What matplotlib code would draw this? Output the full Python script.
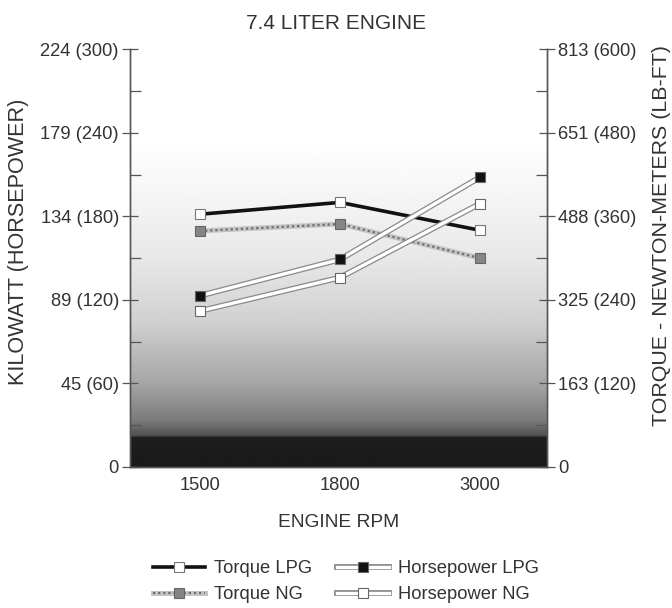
import numpy as np
import matplotlib
matplotlib.use("Agg")
import matplotlib.pyplot as plt
from matplotlib.legend_handler import HandlerTuple

plt.rcParams["font.family"] = ["Liberation Sans", "DejaVu Sans"]

# ── data ──────────────────────────────────────────────────────────────────
rpm = ["1500", "1800", "3000"]
torque_lpg = [363, 380, 340]      # lb-ft
torque_ng = [339, 349, 300]       # lb-ft
hp_lpg = [123, 149, 208]          # hp
hp_ng = [112, 136, 189]           # hp

hp_ticks = [0, 60, 120, 180, 240, 300]
hp_labels = ["0", "45 (60)", "89 (120)", "134 (180)", "179 (240)", "224 (300)"]
tq_ticks = [0, 120, 240, 360, 480, 600]
tq_labels = ["0", "163 (120)", "325 (240)", "488 (360)", "651 (480)", "813 (600)"]

TXT = "#333333"
SPINE = "#555555"
FS = 13.2

fig = plt.figure(figsize=(6.72, 6.08), dpi=100, facecolor="white")
ax = fig.add_axes([0.1935, 0.232, 0.6205, 0.687])   # torque axis (right)
ax2 = ax.twinx()                                     # horsepower axis (left)

x = np.arange(len(rpm))

# background gradient: white at top, dark band at bottom
stops = [0.0, 0.07, 0.075, 0.11, 0.2, 0.35, 0.5, 0.68, 0.78, 1.0]
grays = [0.10, 0.12, 0.32, 0.48, 0.65, 0.82, 0.91, 0.97, 1.0, 1.0]
rows = np.linspace(0, 1, 600)
grad = np.interp(rows, stops, grays)[:, None]
ax.imshow(grad, cmap="gray", vmin=0, vmax=1, origin="lower", aspect="auto",
          extent=[0, 1, 0, 1], transform=ax.transAxes, zorder=0)

# torque lines (host axis)
ax.plot(x, torque_lpg, color="#111111", lw=2.6, zorder=3)
ax.plot(x, torque_lpg, ls="none", marker="s", ms=6.5, mfc="white",
        mec="#777777", mew=0.8, zorder=4)
ax.plot(x, torque_ng, color="#c4c4c4", lw=3.6, zorder=3)
ax.plot(x, torque_ng, color="#6e6e6e", lw=1.6, ls=(0, (1, 1.3)), zorder=3)
ax.plot(x, torque_ng, ls="none", marker="s", ms=6.5, mfc="#858585",
        mec="#666666", mew=0.8, zorder=4)

# horsepower lines (twin axis, drawn on top)
for vals, mfc in [(hp_lpg, "#111111"), (hp_ng, "white")]:
    ax2.plot(x, vals, color="#8a8a8a", lw=4.2, solid_capstyle="butt", zorder=3)
    ax2.plot(x, vals, color="white", lw=2.4, solid_capstyle="butt", zorder=3)
    ax2.plot(x, vals, ls="none", marker="s", ms=6.5, mfc=mfc,
             mec="#666666", mew=0.8, zorder=4)

# axes
ax.set_xlim(-0.5, 2.48)
ax.set_ylim(0, 600)
ax2.set_ylim(0, 300)
ax.set_xticks(x)
ax.set_xticklabels(rpm)
ax.tick_params(axis="x", length=0, pad=7, labelsize=FS, labelcolor=TXT)

ax.yaxis.tick_right()
ax.yaxis.set_label_position("right")
ax.set_yticks(tq_ticks)
ax.set_yticklabels(tq_labels)
ax.set_yticks([60, 180, 300, 420, 540], minor=True)
ax.tick_params(axis="y", which="major", direction="inout", length=12,
               width=0.9, color=SPINE, labelsize=FS, labelcolor=TXT, pad=2)
ax.tick_params(axis="y", which="minor", direction="in", length=8,
               width=0.9, color=SPINE)

ax2.yaxis.tick_left()
ax2.yaxis.set_label_position("left")
ax2.set_yticks(hp_ticks)
ax2.set_yticklabels(hp_labels)
ax2.set_yticks([30, 90, 150, 210, 270], minor=True)
ax2.tick_params(axis="y", which="major", direction="inout", length=12,
                width=0.9, color=SPINE, labelsize=FS, labelcolor=TXT, pad=2)
ax2.tick_params(axis="y", which="minor", direction="in", length=8,
                width=0.9, color=SPINE)

for a in (ax, ax2):
    a.spines["top"].set_visible(False)
    for s in ("left", "right", "bottom"):
        a.spines[s].set_color(SPINE)
        a.spines[s].set_linewidth(1.0)

ax.set_xlabel("ENGINE RPM", fontsize=13.8, color=TXT, labelpad=15)
ax2.set_ylabel("KILOWATT (HORSEPOWER)", fontsize=15.6, color=TXT, labelpad=8)
ax.set_ylabel("TORQUE - NEWTON-METERS (LB-FT)", fontsize=15.4, color=TXT,
              labelpad=11)
ax2.yaxis.label.set_y(0.54)
ax.yaxis.label.set_y(0.555)
fig.text(0.5, 0.962, "7.4 LITER ENGINE", ha="center", va="center",
         fontsize=15, color=TXT)

# legend
h_tlpg = ax.plot([], [], color="#111111", lw=2.6, marker="s", ms=6.5,
                 mfc="white", mec="#777777", mew=0.8)[0]
h_tng_a = ax.plot([], [], color="#c4c4c4", lw=3.6)[0]
h_tng_b = ax.plot([], [], color="#6e6e6e", lw=1.6, ls=(0, (1, 1.3)),
                  marker="s", ms=6.5, mfc="#858585", mec="#666666", mew=0.8)[0]
h_hlpg_a = ax.plot([], [], color="#8a8a8a", lw=4.2)[0]
h_hlpg_b = ax.plot([], [], color="white", lw=2.4, marker="s", ms=6.5,
                   mfc="#111111", mec="#666666", mew=0.8)[0]
h_hng_a = ax.plot([], [], color="#8a8a8a", lw=4.2)[0]
h_hng_b = ax.plot([], [], color="white", lw=2.4, marker="s", ms=6.5,
                  mfc="white", mec="#666666", mew=0.8)[0]

fig.legend([h_tlpg, (h_tng_a, h_tng_b), (h_hlpg_a, h_hlpg_b),
            (h_hng_a, h_hng_b)],
           ["Torque LPG", "Torque NG", "Horsepower LPG", "Horsepower NG"],
           handler_map={tuple: HandlerTuple(ndivide=1, pad=0)},
           ncol=2, loc="center", bbox_to_anchor=(0.515, 0.043),
           frameon=False, fontsize=FS, handlelength=2.8,
           handletextpad=0.5, columnspacing=1.4, labelspacing=0.5,
           labelcolor=TXT)

fig.savefig("out.png", dpi=100, facecolor="white")
